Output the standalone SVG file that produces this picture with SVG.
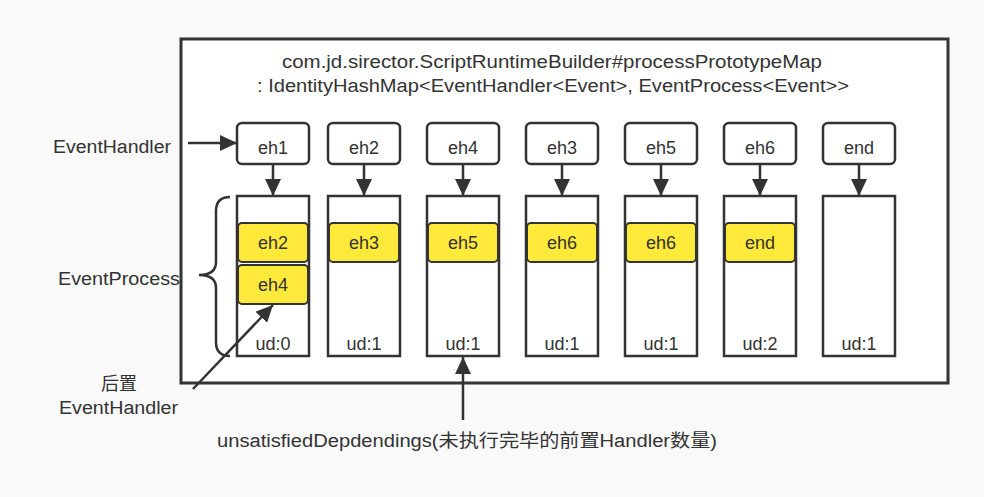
<svg xmlns="http://www.w3.org/2000/svg" width="984" height="497" viewBox="0 0 984 497">
<style>
text{font-family:"Liberation Sans","Noto Sans CJK SC",sans-serif;font-size:18px;fill:#333}
.c{text-anchor:middle}
.box{fill:#fff;stroke:#333;stroke-width:2.5}
.col{fill:#fff;stroke:#333;stroke-width:2.5}
.y{fill:#ffe93b;stroke:#333;stroke-width:2}
.ln{stroke:#333;stroke-width:2.5;fill:none}
</style>
<defs>
<marker id="ah" markerUnits="userSpaceOnUse" markerWidth="18" markerHeight="16" refX="17" refY="8" orient="auto">
<path d="M0,0 L17,8 L0,16 Z" fill="#333"/>
</marker>
</defs>
<rect x="0" y="0" width="984" height="497" fill="#f9f9f9"/>
<g id="frame">
<rect x="181" y="39" width="767" height="344" fill="#fff" stroke="#333" stroke-width="3"/>
<text class="c" x="552" y="68" textLength="540" lengthAdjust="spacingAndGlyphs">com.jd.sirector.ScriptRuntimeBuilder#processPrototypeMap</text>
<text class="c" x="553" y="92" textLength="592" lengthAdjust="spacingAndGlyphs">: IdentityHashMap&lt;EventHandler&lt;Event&gt;, EventProcess&lt;Event&gt;&gt;</text>
</g>
<g id="label-eventhandler"><text x="53" y="153" textLength="118" lengthAdjust="spacingAndGlyphs">EventHandler</text></g>
<g id="label-eventprocess"><text x="58" y="285" textLength="122" lengthAdjust="spacingAndGlyphs">EventProcess</text></g>
<g id="label-post"><text class="c" x="119" y="390">后置</text><text x="59" y="414" textLength="119" lengthAdjust="spacingAndGlyphs">EventHandler</text></g>
<g id="label-ud"><text x="217" y="447" textLength="500" lengthAdjust="spacingAndGlyphs">unsatisfiedDepdendings(未执行完毕的前置Handler数量)</text></g>
<g id="brace"><path class="ln" d="M230,197 Q216,197 216,211 L216,262 Q216,275 199,275 Q216,275 216,288 L216,342 Q216,356 230,356"/></g>

<g id="h-eh1"><rect class="box" x="237" y="123" width="72" height="41" rx="5"/><text class="c" x="273" y="154">eh1</text></g>
<g id="h-eh2"><rect class="box" x="328" y="123" width="72" height="41" rx="5"/><text class="c" x="364" y="154">eh2</text></g>
<g id="h-eh4"><rect class="box" x="427" y="123" width="72" height="41" rx="5"/><text class="c" x="463" y="154">eh4</text></g>
<g id="h-eh3"><rect class="box" x="526" y="123" width="72" height="41" rx="5"/><text class="c" x="562" y="154">eh3</text></g>
<g id="h-eh5"><rect class="box" x="625" y="123" width="72" height="41" rx="5"/><text class="c" x="661" y="154">eh5</text></g>
<g id="h-eh6"><rect class="box" x="724" y="123" width="72" height="41" rx="5"/><text class="c" x="760" y="154">eh6</text></g>
<g id="h-end"><rect class="box" x="823" y="123" width="72" height="41" rx="5"/><text class="c" x="859" y="154">end</text></g>

<g id="p-eh1"><rect class="col" x="237" y="196" width="72" height="160"/>
<rect class="y" x="238" y="223" width="70" height="39" rx="4"/><text class="c" x="273" y="249">eh2</text>
<rect class="y" x="238" y="265" width="70" height="39" rx="4"/><text class="c" x="273" y="291">eh4</text>
<text class="c" x="273" y="350">ud:0</text></g>
<g id="p-eh2"><rect class="col" x="328" y="196" width="72" height="160"/>
<rect class="y" x="329" y="223" width="70" height="39" rx="4"/><text class="c" x="364" y="249">eh3</text>
<text class="c" x="364" y="350">ud:1</text></g>
<g id="p-eh4"><rect class="col" x="427" y="196" width="72" height="160"/>
<rect class="y" x="428" y="223" width="70" height="39" rx="4"/><text class="c" x="463" y="249">eh5</text>
<text class="c" x="463" y="350">ud:1</text></g>
<g id="p-eh3"><rect class="col" x="526" y="196" width="72" height="160"/>
<rect class="y" x="527" y="223" width="70" height="39" rx="4"/><text class="c" x="562" y="249">eh6</text>
<text class="c" x="562" y="350">ud:1</text></g>
<g id="p-eh5"><rect class="col" x="625" y="196" width="72" height="160"/>
<rect class="y" x="626" y="223" width="70" height="39" rx="4"/><text class="c" x="661" y="249">eh6</text>
<text class="c" x="661" y="350">ud:1</text></g>
<g id="p-eh6"><rect class="col" x="724" y="196" width="72" height="160"/>
<rect class="y" x="725" y="223" width="70" height="39" rx="4"/><text class="c" x="760" y="249">end</text>
<text class="c" x="760" y="350">ud:2</text></g>
<g id="p-end"><rect class="col" x="823" y="196" width="72" height="160"/>
<text class="c" x="859" y="350">ud:1</text></g>

<g id="connectors">
<line class="ln" x1="188" y1="143" x2="237" y2="143" marker-end="url(#ah)"/>
<line class="ln" x1="273" y1="164" x2="273" y2="196" marker-end="url(#ah)"/>
<line class="ln" x1="364" y1="164" x2="364" y2="196" marker-end="url(#ah)"/>
<line class="ln" x1="463" y1="164" x2="463" y2="196" marker-end="url(#ah)"/>
<line class="ln" x1="562" y1="164" x2="562" y2="196" marker-end="url(#ah)"/>
<line class="ln" x1="661" y1="164" x2="661" y2="196" marker-end="url(#ah)"/>
<line class="ln" x1="760" y1="164" x2="760" y2="196" marker-end="url(#ah)"/>
<line class="ln" x1="859" y1="164" x2="859" y2="196" marker-end="url(#ah)"/>
<line class="ln" x1="193" y1="389" x2="273" y2="305" marker-end="url(#ah)"/>
<line class="ln" x1="463" y1="420" x2="463" y2="357" marker-end="url(#ah)"/>
</g>
</svg>
